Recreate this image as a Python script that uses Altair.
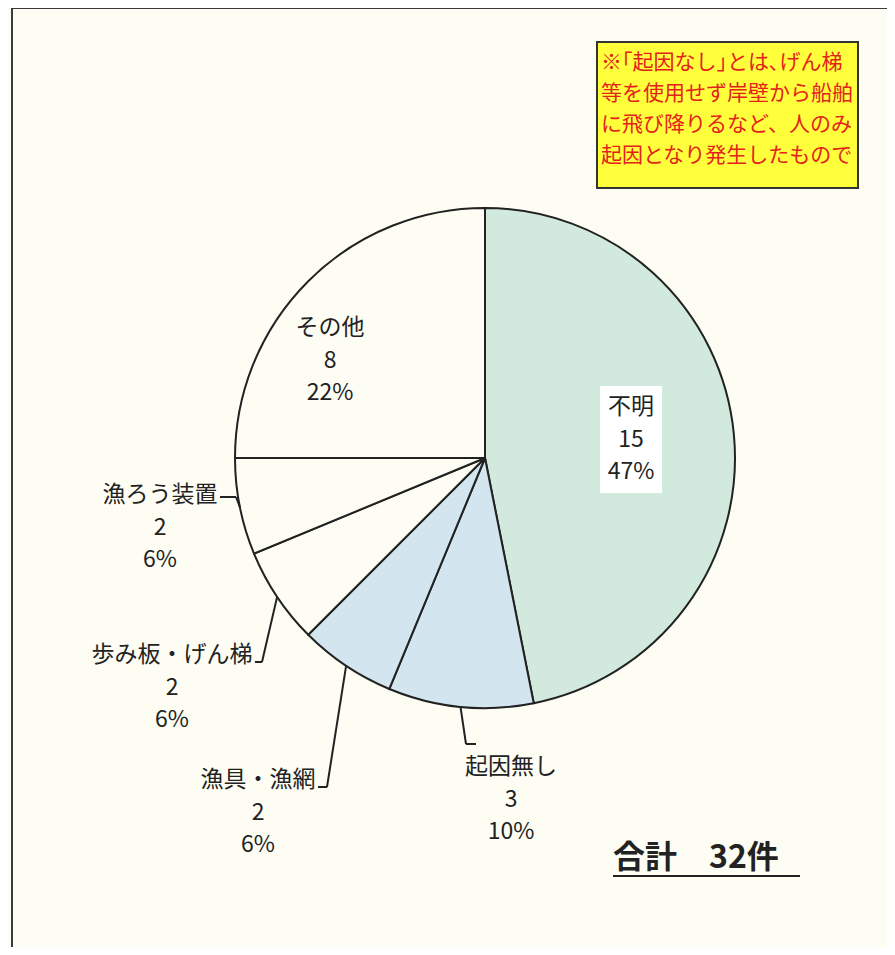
import math
import altair as alt
import pandas as pd

# ---------------- data ----------------
categories = ["不明", "起因無し", "漁具・漁網", "歩み板・げん梯", "漁ろう装置", "その他"]
counts = [15, 3, 2, 2, 2, 8]
percent_labels = ["47%", "10%", "6%", "6%", "6%", "22%"]
slice_colors = ["#d2e9de", "#d3e6ef", "#d3e6ef", "#fdfdf4", "#fdfdf4", "#fdfdf4"]
note_lines = ["※｢起因なし｣とは､げん梯", "等を使用せず岸壁から船舶",
              "に飛び降りるなど、人のみが", "起因となり発生したものであ"]
total_label = "合計\u300032件"

# ---------------- layout ----------------
OFF = 8
W, H = 895 - 2 * OFF, 955 - 2 * OFF
CX, CY, R = 485 - OFF, 458 - OFF, 250
FONT = "Noto Sans CJK JP"
BG = "#fdfdf4"

# label block anchors (center x, first line y) in page pixels
label_anchor = {
    "不明": (631, 407),
    "起因無し": (511, 767),
    "漁具・漁網": (258, 780),
    "歩み板・げん梯": (172, 655),
    "漁ろう装置": (160, 495),
    "その他": (330, 328),
}
LINE_GAP = 32.5
# leader elbows (page pixels): list of points after the arc point
leader_elbows = {
    "起因無し": [(466, 744), (476, 744)],
    "漁具・漁網": [(327, 787), (318, 787)],
    "歩み板・げん梯": [(262, 662), (255, 662)],
    "漁ろう装置": [(236, 497), (220, 497)],
}

total = sum(counts)
pie_df = pd.DataFrame({"category": categories, "count": counts, "idx": list(range(len(categories)))})

# label rows
lab_rows = []
for c, n, p in zip(categories, counts, percent_labels):
    ax, ay = label_anchor[c]
    for i, t in enumerate([c, str(n), p]):
        lab_rows.append({"px": ax - OFF, "py": ay - OFF + i * LINE_GAP, "text": t})
lab_df = pd.DataFrame(lab_rows)

# leader segments, starting at arc midpoint of each slice
seg_rows = []
cum = 0
for c, n in zip(categories, counts):
    mid = (cum + n / 2) / total * 2 * math.pi
    cum += n
    if c not in leader_elbows:
        continue
    pts = [(CX + R * math.sin(mid), CY - R * math.cos(mid))]
    pts += [(x - OFF, y - OFF) for x, y in leader_elbows[c]]
    for (x1, y1), (x2, y2) in zip(pts[:-1], pts[1:]):
        seg_rows.append({"x": x1, "y": y1, "x2": x2, "y2": y2})
seg_df = pd.DataFrame(seg_rows)

one = pd.DataFrame({"a": [0]})

# frame (left and top edges visible)
frame = alt.Chart(pd.DataFrame({"x": [4, 4], "y": [0, 0], "x2": [4, W + 10], "y2": [H + 10, 0]})).mark_rule(
    color="#3a3a3a", strokeWidth=2
).encode(x=alt.X("x:Q", scale=None), y=alt.Y("y:Q", scale=None), x2="x2:Q", y2="y2:Q")

note_box = alt.Chart(one).mark_rect(fill="#ffff3c", stroke="#333333", strokeWidth=2).encode(
    x=alt.value(597 - OFF), x2=alt.value(858 - OFF), y=alt.value(42 - OFF), y2=alt.value(188 - OFF)
)

note_df = pd.DataFrame({"text": note_lines, "py": [63 - OFF + i * 31 for i in range(len(note_lines))]})
note_text = alt.Chart(note_df).mark_text(
    font=FONT, fontSize=21, color="#e3231b", align="left", baseline="middle", limit=258, ellipsis="\u200b"
).encode(x=alt.value(601 - OFF), y=alt.Y("py:Q", scale=None), text="text:N")

pie = alt.Chart(pie_df).mark_arc(outerRadius=R, stroke="#222222", strokeWidth=2).encode(
    theta=alt.Theta("count:Q", stack=True),
    order=alt.Order("idx:Q"),
    color=alt.Color("category:N", scale=alt.Scale(domain=categories, range=slice_colors), legend=None),
    x=alt.value(CX), y=alt.value(CY),
)

white_box = alt.Chart(one).mark_rect(fill="#ffffff").encode(
    x=alt.value(600 - OFF), x2=alt.value(662 - OFF), y=alt.value(386 - OFF), y2=alt.value(493 - OFF)
)

leaders = alt.Chart(seg_df).mark_rule(color="#222222", strokeWidth=2).encode(
    x=alt.X("x:Q", scale=None), y=alt.Y("y:Q", scale=None), x2="x2:Q", y2="y2:Q"
)

labels = alt.Chart(lab_df).mark_text(
    font=FONT, fontSize=23, color="#222222", align="center", baseline="middle"
).encode(x=alt.X("px:Q", scale=None), y=alt.Y("py:Q", scale=None), text="text:N")

total_text = alt.Chart(pd.DataFrame({"text": [total_label]})).mark_text(
    font=FONT, fontSize=32, fontWeight="bold", color="#222222", align="left", baseline="middle"
).encode(x=alt.value(613 - OFF), y=alt.value(858 - OFF), text="text:N")

underline = alt.Chart(one).mark_rule(color="#222222", strokeWidth=2).encode(
    x=alt.value(613 - OFF), x2=alt.value(800 - OFF), y=alt.value(876 - OFF)
)

chart = alt.layer(
    frame, note_box, note_text, pie, white_box, leaders, labels, total_text, underline
).properties(
    width=W, height=H, padding=0, background=BG,
    autosize=alt.AutoSizeParams(type="none"),
).configure_view(stroke=None)

chart.save("out.html", embed_options={"renderer": "svg", "actions": False})
